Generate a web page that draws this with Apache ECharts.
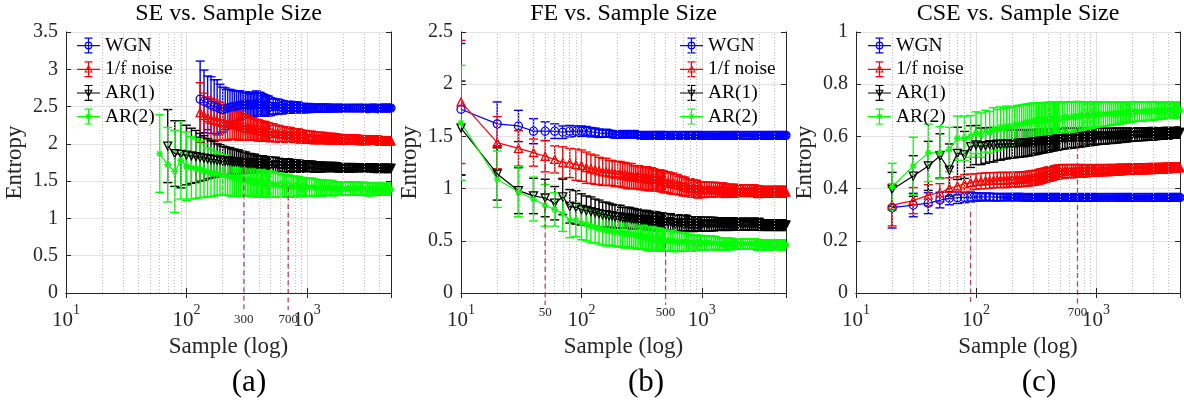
<!DOCTYPE html>
<html><head><meta charset="utf-8">
<script src="https://cdn.jsdelivr.net/npm/echarts@6/dist/echarts.min.js"></script>
<style>html,body{margin:0;padding:0;background:#fff}#c{width:1184px;height:407px}</style>
</head><body><div id="c"></div>
<script>
// ---------------- DATA ----------------
const seriesNames = ['WGN', '1/f noise', 'AR(1)', 'AR(2)'];
const panelTitles = ['SE vs. Sample Size', 'FE vs. Sample Size', 'CSE vs. Sample Size'];
const panelTags = ['(a)', '(b)', '(c)'];
const xAxisName = 'Sample (log)';
const yAxisName = 'Entropy';
const xTickValues = [10, 100, 1000];
const xTickExponents = ['1', '2', '3'];
const minorGridValues = [20,30,40,50,60,70,80,90,200,300,400,500,600,700,800,900,2000,3000,4000];

// sample sizes
const nA = [60,70,80,90,100,110,120,130,140,150,160,170,180,190,200,
  210,220,230,240,250,260,270,280,290,300,310,320,330,340,350,360,370,380,390,400,410,420,430,440,450,460,470,480,490,500,
  525,550,575,600,625,650,675,700,725,750,775,800,825,850,875,900,925,950,975,1000,
  1050,1100,1150,1200,1250,1300,1350,1400,1450,1500,1550,1600,1650,1700,1750,1800,1850,1900,1950,2000,
  2100,2200,2300,2400,2500,2600,2700,2800,2900,3000,
  3100,3200,3300,3400,3500,3600,3700,3800,3900,4000,
  4100,4200,4300,4400,4500,4600,4700,4800,4900,5000];
const nB = [10,20,30,40,50,
  60,70,80,90,100,110,120,130,140,150,160,170,180,190,200,
  210,220,230,240,250,260,270,280,290,300,310,320,330,340,350,360,370,380,390,400,410,420,430,440,450,460,470,480,490,500,
  525,550,575,600,625,650,675,700,725,750,775,800,825,850,875,900,925,950,975,1000,
  1050,1100,1150,1200,1250,1300,1350,1400,1450,1500,1550,1600,1650,1700,1750,1800,1850,1900,1950,2000,
  2100,2200,2300,2400,2500,2600,2700,2800,2900,3000,
  3100,3200,3300,3400,3500,3600,3700,3800,3900,4000,
  4100,4200,4300,4400,4500,4600,4700,4800,4900,5000];
const nC = [20,30,40,50,
  60,70,80,90,100,110,120,130,140,150,160,170,180,190,200,
  210,220,230,240,250,260,270,280,290,300,310,320,330,340,350,360,370,380,390,400,410,420,430,440,450,460,470,480,490,500,
  525,550,575,600,625,650,675,700,725,750,775,800,825,850,875,900,925,950,975,1000,
  1050,1100,1150,1200,1250,1300,1350,1400,1450,1500,1550,1600,1650,1700,1750,1800,1850,1900,1950,2000,
  2100,2200,2300,2400,2500,2600,2700,2800,2900,3000,
  3100,3200,3300,3400,3500,3600,3700,3800,3900,4000,
  4100,4200,4300,4400,4500,4600,4700,4800,4900,5000];

// (a) SE
const seWgnMean = [null,null,null,null,null,null,null,2.60,2.57,2.55,2.52,2.50,2.49,2.47,2.46,
  2.47,2.48,2.49,2.50,2.50,2.51,2.51,2.52,2.52,2.52, 2.53,2.52,2.53,2.52,2.52,2.53,2.53,2.54,2.53,2.53,
  2.53,2.52,2.52,2.52,2.51,2.51,2.51,2.51,2.50,2.50,
  2.50,2.50,2.50,2.50,2.49,2.49,2.49,2.49,2.49,2.49,2.49,2.49,2.49,2.49,2.48,2.48,2.48,2.48,2.48,2.48,
  2.48,2.48,2.48,2.48,2.48,2.48,2.48,2.48,2.48,2.48,2.48,2.48,2.48,2.48,2.48,2.48,2.48,2.48,2.48,2.48,
  2.48,2.48,2.48,2.48,2.48,2.48,2.48,2.48,2.48,2.48,
  2.48,2.47,2.48,2.48,2.48,2.48,2.48,2.48,2.47,2.48,
  2.48,2.48,2.48,2.48,2.48,2.48,2.48,2.48,2.48,2.48];
const seWgnStd = [null,null,null,null,null,null,null,0.51,0.42,0.36,0.38,0.36,0.37,0.33,0.30,
  0.28,0.25,0.24,0.22,0.21,0.20,0.20,0.19,0.18,0.17, 0.17,0.16,0.16,0.15,0.15,0.16,0.16,0.17,0.16,0.16,
  0.16,0.15,0.15,0.14,0.14,0.14,0.13,0.13,0.12,0.12,
  0.11,0.10,0.10,0.09,0.09,0.08,0.08,0.08,0.08,0.07,0.07,0.07,0.07,0.07,0.06,0.06,0.06,0.06,0.06,0.06,
  0.06,0.05,0.05,0.05,0.05,0.05,0.05,0.05,0.05,0.05,0.045,0.045,0.045,0.045,0.045,0.04,0.04,0.04,0.04,0.04,
  0.04,0.04,0.04,0.04,0.04,0.04,0.04,0.04,0.04,0.04,
  0.035,0.035,0.035,0.035,0.035,0.035,0.035,0.035,0.035,0.035,
  0.03,0.03,0.03,0.03,0.03,0.03,0.03,0.03,0.03,0.03];
const seFnMean = [null,null,null,null,null,null,null,2.42,2.38,2.35,2.33,2.32,2.31,2.30,2.29,
  2.28,2.27,2.27,2.26,2.26,2.25,2.24,2.23,2.23,2.22, 2.22,2.21,2.21,2.20,2.20,2.20,2.19,2.19,2.18,2.18,
  2.18,2.17,2.17,2.17,2.17,2.16,2.16,2.16,2.15,2.15,
  2.15,2.14,2.14,2.13,2.13,2.13,2.12,2.12,2.12,2.12,2.11,2.11,2.11,2.11,2.10,2.10,2.10,2.10,2.09,2.09,
  2.09,2.09,2.08,2.08,2.08,2.08,2.08,2.08,2.07,2.07,2.07,2.07,2.07,2.07,2.07,2.06,2.06,2.06,2.06,2.06,
  2.06,2.06,2.06,2.06,2.06,2.06,2.05,2.05,2.05,2.05,
  2.05,2.05,2.05,2.05,2.05,2.05,2.05,2.05,2.05,2.04,
  2.04,2.04,2.04,2.04,2.04,2.04,2.04,2.04,2.04,2.04];
const seFnStd = [null,null,null,null,null,null,null,0.40,0.30,0.28,0.28,0.27,0.26,0.25,0.24,
  0.23,0.22,0.21,0.20,0.20,0.19,0.19,0.18,0.18,0.17, 0.17,0.16,0.16,0.15,0.15,0.15,0.14,0.14,0.14,0.14,
  0.13,0.13,0.13,0.13,0.13,0.12,0.12,0.12,0.12,0.12,
  0.12,0.11,0.11,0.11,0.10,0.10,0.10,0.10,0.10,0.09,0.09,0.09,0.09,0.09,0.09,0.08,0.08,0.08,0.08,0.08,
  0.08,0.08,0.08,0.075,0.075,0.075,0.075,0.07,0.07,0.07,0.07,0.07,0.07,0.065,0.065,0.065,0.065,0.065,0.065,0.06,
  0.06,0.06,0.06,0.06,0.06,0.06,0.06,0.06,0.06,0.06,
  0.06,0.06,0.055,0.055,0.055,0.055,0.055,0.055,0.055,0.055,
  0.055,0.055,0.05,0.05,0.05,0.05,0.05,0.05,0.05,0.05];
const seAr1Mean = [null,1.97,1.87,1.86,1.85,1.84,1.83,1.82,1.81,1.80,1.79,1.79,1.78,1.78,1.77,
  1.77,1.77,1.77,1.76,1.76,1.76,1.76,1.75,1.75,1.75, 1.75,1.74,1.74,1.74,1.74,1.74,1.74,1.73,1.73,1.73,
  1.73,1.73,1.73,1.73,1.73,1.72,1.72,1.72,1.72,1.72,
  1.72,1.72,1.72,1.71,1.71,1.71,1.71,1.71,1.71,1.71,1.70,1.70,1.70,1.70,1.70,1.70,1.70,1.70,1.70,1.70,
  1.70,1.70,1.69,1.69,1.69,1.69,1.69,1.69,1.69,1.69,1.69,1.69,1.69,1.69,1.69,1.68,1.68,1.68,1.68,1.68,
  1.68,1.68,1.68,1.68,1.68,1.68,1.68,1.68,1.68,1.68,
  1.68,1.68,1.68,1.68,1.68,1.67,1.67,1.67,1.67,1.67,
  1.67,1.67,1.67,1.67,1.67,1.67,1.67,1.67,1.67,1.67];
const seAr1Std = [null,0.49,0.44,0.45,0.40,0.37,0.35,0.32,0.30,0.27,0.25,0.24,0.22,0.21,0.20,
  0.19,0.18,0.18,0.17,0.17,0.16,0.16,0.15,0.15,0.14, 0.14,0.13,0.13,0.13,0.12,0.12,0.12,0.12,0.11,0.11,
  0.11,0.11,0.11,0.10,0.10,0.10,0.10,0.10,0.10,0.10,
  0.10,0.10,0.09,0.09,0.09,0.09,0.09,0.09,0.08,0.08,0.08,0.08,0.08,0.08,0.08,0.07,0.07,0.07,0.07,0.07,
  0.07,0.07,0.07,0.065,0.065,0.065,0.065,0.06,0.06,0.06,0.06,0.06,0.06,0.06,0.055,0.055,0.055,0.055,0.055,0.055,
  0.055,0.055,0.055,0.055,0.055,0.05,0.05,0.05,0.05,0.05,
  0.05,0.05,0.05,0.05,0.05,0.05,0.05,0.05,0.05,0.05,
  0.045,0.045,0.045,0.045,0.045,0.045,0.045,0.045,0.045,0.045];
const seAr2Mean = [1.87,1.72,1.63,1.78,1.70,1.68,1.67,1.66,1.64,1.62,1.61,1.60,1.60,1.59,1.58,
  1.58,1.57,1.56,1.55,1.55,1.54,1.54,1.53,1.53,1.52, 1.52,1.51,1.51,1.50,1.50,1.50,1.49,1.49,1.49,1.48,
  1.48,1.48,1.47,1.47,1.47,1.47,1.46,1.46,1.46,1.46,
  1.46,1.45,1.45,1.45,1.44,1.44,1.44,1.44,1.43,1.43,1.43,1.43,1.43,1.43,1.42,1.42,1.42,1.42,1.42,1.42,
  1.42,1.42,1.42,1.41,1.41,1.41,1.41,1.41,1.41,1.41,1.41,1.41,1.40,1.40,1.40,1.40,1.40,1.40,1.40,1.40,
  1.40,1.40,1.40,1.40,1.40,1.40,1.40,1.40,1.40,1.40,
  1.39,1.39,1.39,1.39,1.39,1.39,1.39,1.39,1.39,1.39,
  1.39,1.39,1.39,1.39,1.39,1.39,1.39,1.39,1.39,1.39];
const seAr2Std = [0.52,0.50,0.55,0.52,0.46,0.42,0.40,0.38,0.36,0.33,0.32,0.30,0.29,0.28,0.27,
  0.27,0.26,0.26,0.25,0.25,0.24,0.24,0.23,0.23,0.22, 0.22,0.21,0.21,0.21,0.20,0.20,0.20,0.20,0.19,0.19,
  0.19,0.19,0.18,0.18,0.18,0.18,0.18,0.17,0.17,0.17,
  0.17,0.16,0.16,0.16,0.15,0.15,0.15,0.15,0.14,0.14,0.14,0.14,0.13,0.13,0.13,0.13,0.12,0.12,0.12,0.12,
  0.12,0.12,0.11,0.11,0.11,0.11,0.11,0.10,0.10,0.10,0.10,0.10,0.10,0.09,0.09,0.09,0.09,0.09,0.09,0.09,
  0.09,0.09,0.09,0.09,0.09,0.085,0.085,0.085,0.085,0.085,
  0.085,0.085,0.085,0.085,0.085,0.08,0.08,0.08,0.08,0.08,
  0.08,0.08,0.08,0.08,0.08,0.08,0.08,0.08,0.08,0.08];

// (b) FE
const feWgnMean = [1.76,1.62,1.60,1.55,1.55,
  1.55,1.54,1.55,1.55,1.55,1.55,1.54,1.54,1.53,1.53,1.53,1.53,1.52,1.52,1.52,
  1.52,1.52,1.52,1.52,1.52,1.52,1.52,1.52,1.52,1.51, 1.51,1.51,1.51,1.51,1.51,1.51,1.51,1.51,1.51,1.51,
  1.51,1.51,1.51,1.51,1.51,1.51,1.51,1.51,1.51,1.51,
  1.51,1.51,1.51,1.51,1.51,1.51,1.51,1.51,1.51,1.51,1.51,1.51,1.51,1.51,1.51,1.51,1.51,1.51,1.51,1.51,
  1.51,1.51,1.51,1.51,1.51,1.51,1.51,1.51,1.51,1.51,1.51,1.51,1.51,1.51,1.51,1.51,1.51,1.51,1.51,1.51,
  1.51,1.51,1.51,1.51,1.51,1.51,1.51,1.51,1.51,1.51,
  1.51,1.51,1.51,1.51,1.51,1.51,1.51,1.51,1.51,1.51,
  1.51,1.51,1.51,1.51,1.51,1.51,1.51,1.51,1.51,1.51];
const feWgnStd = [0.63,0.21,0.15,0.12,0.09,
  0.07,0.06,0.055,0.05,0.05,0.045,0.045,0.04,0.04,0.035,0.035,0.03,0.03,0.03,0.03,
  0.03,0.028,0.027,0.026,0.025,0.024,0.023,0.022,0.021,0.02, 0.02,0.02,0.02,0.02,0.02,0.02,0.02,0.02,0.02,0.02,
  0.02,0.02,0.02,0.02,0.02,0.02,0.02,0.02,0.02,0.02,
  0.015,0.015,0.015,0.015,0.015,0.015,0.015,0.015,0.015,0.015,0.015,0.015,0.015,0.015,0.015,0.015,0.015,0.015,0.015,0.015,
  0.012,0.012,0.012,0.012,0.012,0.012,0.012,0.012,0.012,0.012,0.012,0.012,0.012,0.012,0.012,0.012,0.012,0.012,0.012,0.012,
  0.01,0.01,0.01,0.01,0.01,0.01,0.01,0.01,0.01,0.01,
  0.01,0.01,0.01,0.01,0.01,0.01,0.01,0.01,0.01,0.01,
  0.01,0.01,0.01,0.01,0.01,0.01,0.01,0.01,0.01,0.01];
const feFnMean = [1.83,1.44,1.385,1.345,1.31,
  1.28,1.25,1.245,1.23,1.22,1.20,1.19,1.18,1.17,1.16,1.16,1.15,1.15,1.14,1.14,
  1.14,1.13,1.13,1.12,1.12,1.12,1.11,1.11,1.11,1.11, 1.10,1.10,1.10,1.10,1.10,1.09,1.09,1.09,1.09,1.09,
  1.08,1.08,1.08,1.08,1.08,1.07,1.07,1.07,1.06,1.06,
  1.06,1.05,1.05,1.04,1.04,1.03,1.03,1.02,1.02,1.01,1.01,1.01,1.00,1.00,1.00,1.00,0.99,0.99,0.99,0.99,
  0.99,0.99,0.99,0.99,0.99,0.99,0.99,0.99,0.99,0.99,0.98,0.98,0.98,0.98,0.98,0.98,0.98,0.98,0.98,0.98,
  0.98,0.98,0.98,0.98,0.98,0.98,0.98,0.98,0.97,0.97,
  0.97,0.97,0.97,0.97,0.97,0.97,0.97,0.97,0.97,0.97,
  0.97,0.97,0.97,0.97,0.97,0.97,0.97,0.97,0.97,0.97];
const feFnStd = [0.59,0.25,0.17,0.13,0.15,
  0.13,0.15,0.14,0.15,0.15,0.15,0.14,0.14,0.13,0.13,0.13,0.12,0.12,0.12,0.12,
  0.12,0.12,0.12,0.12,0.12,0.12,0.11,0.11,0.11,0.11, 0.11,0.11,0.11,0.11,0.11,0.11,0.11,0.11,0.10,0.10,
  0.10,0.10,0.10,0.10,0.10,0.10,0.10,0.10,0.10,0.10,
  0.10,0.10,0.10,0.095,0.095,0.09,0.09,0.09,0.09,0.085,0.085,0.085,0.08,0.08,0.08,0.08,0.08,0.075,0.075,0.075,
  0.075,0.07,0.07,0.07,0.07,0.07,0.065,0.065,0.065,0.065,0.065,0.06,0.06,0.06,0.06,0.06,0.06,0.06,0.055,0.055,
  0.055,0.055,0.055,0.055,0.055,0.055,0.055,0.055,0.055,0.055,
  0.05,0.05,0.05,0.05,0.05,0.05,0.05,0.05,0.05,0.05,
  0.05,0.05,0.05,0.05,0.05,0.05,0.05,0.05,0.05,0.05];
const feAr1Mean = [1.58,1.14,0.98,0.93,0.91,
  0.86,0.92,0.83,0.82,0.80,0.79,0.78,0.77,0.76,0.75,0.75,0.74,0.74,0.73,0.73,
  0.73,0.72,0.72,0.72,0.72,0.71,0.71,0.71,0.71,0.70, 0.70,0.70,0.70,0.70,0.70,0.69,0.69,0.69,0.69,0.69,
  0.69,0.69,0.68,0.68,0.68,0.68,0.68,0.68,0.68,0.68,
  0.68,0.68,0.67,0.67,0.67,0.67,0.67,0.67,0.67,0.67,0.66,0.66,0.66,0.66,0.66,0.66,0.66,0.66,0.66,0.66,
  0.66,0.66,0.66,0.66,0.66,0.66,0.66,0.66,0.66,0.66,0.66,0.66,0.66,0.66,0.66,0.66,0.66,0.66,0.66,0.66,
  0.66,0.66,0.66,0.66,0.66,0.66,0.66,0.66,0.66,0.66,
  0.65,0.65,0.65,0.65,0.65,0.65,0.65,0.65,0.65,0.65,
  0.65,0.65,0.65,0.65,0.65,0.65,0.65,0.65,0.65,0.65];
const feAr1Std = [0.45,0.25,0.22,0.17,0.18,
  0.16,0.17,0.16,0.16,0.15,0.14,0.14,0.13,0.13,0.12,0.12,0.12,0.11,0.11,0.11,
  0.11,0.10,0.10,0.10,0.10,0.10,0.10,0.095,0.095,0.09, 0.09,0.09,0.09,0.09,0.09,0.09,0.09,0.09,0.09,0.09,
  0.085,0.085,0.085,0.085,0.085,0.085,0.085,0.08,0.08,0.08,
  0.08,0.08,0.08,0.08,0.08,0.075,0.075,0.075,0.075,0.075,0.07,0.07,0.07,0.07,0.07,0.065,0.065,0.065,0.065,0.065,
  0.065,0.065,0.065,0.065,0.065,0.06,0.06,0.06,0.06,0.06,0.06,0.06,0.06,0.06,0.06,0.055,0.055,0.055,0.055,0.055,
  0.055,0.055,0.055,0.055,0.055,0.055,0.055,0.055,0.055,0.055,
  0.05,0.05,0.05,0.05,0.05,0.05,0.05,0.05,0.05,0.05,
  0.05,0.05,0.05,0.05,0.05,0.05,0.05,0.05,0.05,0.05];
const feAr2Mean = [1.63,1.09,0.97,0.90,0.84,
  0.80,0.76,0.70,0.70,0.67,0.66,0.64,0.63,0.62,0.61,0.60,0.60,0.59,0.59,0.58,
  0.58,0.58,0.57,0.57,0.57,0.56,0.56,0.56,0.55,0.55, 0.55,0.54,0.54,0.54,0.53,0.53,0.53,0.52,0.52,0.52,
  0.52,0.51,0.51,0.51,0.51,0.51,0.50,0.50,0.50,0.50,
  0.50,0.50,0.50,0.49,0.49,0.49,0.49,0.49,0.49,0.49,0.48,0.48,0.48,0.48,0.48,0.48,0.48,0.48,0.48,0.48,
  0.48,0.48,0.48,0.48,0.48,0.48,0.47,0.47,0.47,0.47,0.47,0.47,0.47,0.47,0.47,0.47,0.47,0.47,0.47,0.47,
  0.47,0.47,0.47,0.47,0.47,0.47,0.47,0.47,0.46,0.46,
  0.46,0.46,0.46,0.46,0.46,0.46,0.46,0.46,0.46,0.46,
  0.46,0.46,0.46,0.46,0.46,0.46,0.46,0.46,0.46,0.46];
const feAr2Std = [0.55,0.27,0.24,0.21,0.20,
  0.16,0.17,0.17,0.16,0.16,0.16,0.16,0.15,0.15,0.15,0.15,0.14,0.14,0.14,0.14,
  0.14,0.14,0.14,0.13,0.13,0.13,0.13,0.13,0.13,0.13, 0.13,0.12,0.12,0.12,0.12,0.12,0.12,0.12,0.11,0.11,
  0.11,0.11,0.11,0.11,0.11,0.10,0.10,0.10,0.10,0.10,
  0.10,0.10,0.095,0.095,0.09,0.09,0.09,0.085,0.085,0.085,0.08,0.08,0.08,0.075,0.075,0.075,0.07,0.07,0.07,0.07,
  0.07,0.065,0.065,0.065,0.065,0.06,0.06,0.06,0.06,0.06,0.055,0.055,0.055,0.055,0.055,0.05,0.05,0.05,0.05,0.05,
  0.05,0.05,0.05,0.05,0.05,0.05,0.05,0.05,0.05,0.05,
  0.045,0.045,0.045,0.045,0.045,0.045,0.045,0.045,0.045,0.045,
  0.045,0.045,0.045,0.045,0.045,0.045,0.045,0.045,0.045,0.045];

// (c) CSE
const cseWgnMean = [0.327,0.337,0.344,0.356,
  0.363,0.365,0.366,0.367,0.368,0.368,0.368,0.368,0.367,0.367,0.367,0.367,0.367,0.367,0.367,
  0.367,0.367,0.367,0.367,0.366,0.366,0.366,0.366,0.366,0.366, 0.366,0.366,0.366,0.366,0.366,0.366,0.366,0.366,0.366,0.366,
  0.366,0.366,0.366,0.366,0.366,0.366,0.366,0.366,0.366,0.366,
  0.366,0.366,0.366,0.366,0.366,0.366,0.366,0.366,0.366,0.366,0.366,0.366,0.366,0.366,0.366,0.366,0.366,0.366,0.366,0.366,
  0.366,0.366,0.366,0.366,0.366,0.366,0.366,0.366,0.366,0.366,0.366,0.366,0.366,0.366,0.366,0.366,0.366,0.366,0.366,0.366,
  0.366,0.366,0.366,0.366,0.366,0.366,0.366,0.366,0.366,0.366,
  0.366,0.366,0.366,0.366,0.366,0.366,0.366,0.366,0.366,0.366,
  0.366,0.366,0.366,0.366,0.366,0.366,0.366,0.366,0.366,0.366];
const cseWgnStd = [0.078,0.045,0.04,0.03,
  0.025,0.022,0.02,0.018,0.016,0.015,0.015,0.014,0.014,0.013,0.013,0.012,0.012,0.012,0.011,
  0.011,0.011,0.011,0.010,0.010,0.010,0.010,0.010,0.010,0.009, 0.009,0.009,0.009,0.009,0.009,0.009,0.009,0.009,0.009,0.009,
  0.009,0.009,0.009,0.009,0.009,0.009,0.009,0.009,0.009,0.009,
  0.008,0.008,0.008,0.008,0.008,0.008,0.008,0.008,0.008,0.008,0.008,0.008,0.008,0.008,0.008,0.008,0.008,0.008,0.008,0.008,
  0.007,0.007,0.007,0.007,0.007,0.007,0.007,0.007,0.007,0.007,0.007,0.007,0.007,0.007,0.007,0.007,0.007,0.007,0.007,0.007,
  0.006,0.006,0.006,0.006,0.006,0.006,0.006,0.006,0.006,0.006,
  0.006,0.006,0.006,0.006,0.006,0.006,0.006,0.006,0.006,0.006,
  0.006,0.006,0.006,0.006,0.006,0.006,0.006,0.006,0.006,0.006];
const cseFnMean = [0.337,0.354,0.375,0.384,
  0.401,0.410,0.418,0.423,0.427,0.429,0.430,0.431,0.432,0.433,0.433,0.433,0.433,0.434,0.434,
  0.434,0.435,0.435,0.436,0.436,0.437,0.438,0.439,0.440,0.441, 0.442,0.443,0.445,0.446,0.448,0.449,0.451,0.452,0.454,0.455,
  0.456,0.457,0.458,0.459,0.461,0.462,0.463,0.463,0.464,0.465,
  0.466,0.466,0.467,0.467,0.467,0.467,0.468,0.468,0.468,0.468,0.468,0.468,0.469,0.469,0.469,0.469,0.469,0.469,0.470,0.470,
  0.470,0.470,0.471,0.471,0.471,0.471,0.472,0.472,0.472,0.472,0.473,0.473,0.473,0.473,0.474,0.474,0.474,0.474,0.475,0.475,
  0.475,0.475,0.475,0.476,0.476,0.476,0.476,0.477,0.477,0.477,
  0.477,0.478,0.478,0.478,0.478,0.478,0.478,0.479,0.479,0.479,
  0.479,0.479,0.479,0.480,0.480,0.480,0.480,0.480,0.480,0.480];
const cseFnStd = [0.08,0.05,0.04,0.035,
  0.04,0.035,0.035,0.033,0.03,0.03,0.03,0.03,0.029,0.029,0.029,0.029,0.029,0.028,0.028,
  0.028,0.028,0.028,0.028,0.028,0.028,0.028,0.028,0.028,0.028, 0.028,0.028,0.028,0.028,0.028,0.027,0.027,0.027,0.027,0.027,
  0.027,0.027,0.026,0.026,0.026,0.026,0.026,0.026,0.026,0.026,
  0.026,0.026,0.025,0.025,0.025,0.025,0.024,0.024,0.024,0.024,0.023,0.023,0.023,0.023,0.022,0.022,0.022,0.022,0.022,0.022,
  0.022,0.021,0.021,0.021,0.021,0.021,0.02,0.02,0.02,0.02,0.02,0.02,0.02,0.019,0.019,0.019,0.019,0.019,0.019,0.019,
  0.019,0.019,0.019,0.019,0.019,0.019,0.019,0.019,0.019,0.019,
  0.018,0.018,0.018,0.018,0.018,0.018,0.018,0.018,0.018,0.018,
  0.017,0.017,0.017,0.017,0.017,0.017,0.017,0.017,0.017,0.017];
const cseAr1Mean = [0.397,0.448,0.487,0.525,
  0.471,0.535,0.529,0.561,0.567,0.562,0.565,0.568,0.566,0.570,0.569,0.571,0.570,0.572,0.572,
  0.572,0.573,0.573,0.574,0.574,0.575,0.575,0.576,0.577,0.578, 0.578,0.579,0.580,0.581,0.582,0.582,0.583,0.584,0.584,0.585,
  0.585,0.586,0.587,0.587,0.588,0.588,0.589,0.589,0.590,0.590,
  0.591,0.592,0.592,0.593,0.593,0.594,0.594,0.595,0.595,0.596,0.596,0.597,0.597,0.598,0.598,0.598,0.599,0.599,0.600,0.600,
  0.600,0.601,0.601,0.601,0.602,0.602,0.602,0.603,0.603,0.603,0.604,0.604,0.604,0.605,0.605,0.605,0.606,0.606,0.606,0.607,
  0.607,0.607,0.608,0.608,0.608,0.609,0.609,0.609,0.610,0.610,
  0.610,0.610,0.611,0.611,0.611,0.611,0.612,0.612,0.612,0.612,
  0.613,0.613,0.613,0.613,0.614,0.614,0.614,0.614,0.615,0.615];
const cseAr1Std = [0.065,0.078,0.094,0.085,
  0.10,0.10,0.09,0.08,0.075,0.07,0.068,0.066,0.064,0.062,0.06,0.058,0.056,0.055,0.054,
  0.054,0.053,0.053,0.052,0.052,0.051,0.050,0.050,0.049,0.048, 0.048,0.047,0.047,0.046,0.046,0.045,0.045,0.045,0.044,0.044,
  0.043,0.043,0.042,0.042,0.042,0.041,0.041,0.041,0.040,0.040,
  0.04,0.039,0.039,0.038,0.038,0.037,0.037,0.036,0.036,0.035,0.035,0.034,0.034,0.033,0.033,0.033,0.032,0.032,0.032,0.031,
  0.031,0.03,0.03,0.03,0.029,0.029,0.029,0.028,0.028,0.028,0.027,0.027,0.027,0.026,0.026,0.026,0.025,0.025,0.025,0.025,
  0.024,0.024,0.024,0.024,0.024,0.024,0.024,0.024,0.024,0.024,
  0.022,0.022,0.022,0.022,0.022,0.022,0.022,0.022,0.022,0.022,
  0.02,0.02,0.02,0.02,0.02,0.02,0.02,0.02,0.02,0.02];
const cseAr2Mean = [0.407,0.487,0.537,0.537,
  0.550,0.593,0.593,0.600,0.614,0.605,0.620,0.615,0.630,0.625,0.635,0.630,0.640,0.635,0.640,
  0.641,0.645,0.646,0.648,0.650,0.652,0.653,0.655,0.657,0.658, 0.659,0.660,0.661,0.662,0.662,0.663,0.664,0.664,0.665,0.666,
  0.666,0.667,0.667,0.668,0.668,0.668,0.669,0.669,0.670,0.670,
  0.671,0.672,0.673,0.674,0.675,0.676,0.677,0.678,0.678,0.679,0.679,0.680,0.680,0.681,0.681,0.682,0.682,0.683,0.683,0.684,
  0.684,0.685,0.685,0.686,0.686,0.687,0.687,0.688,0.688,0.689,0.689,0.690,0.690,0.691,0.691,0.692,0.692,0.693,0.693,0.694,
  0.694,0.695,0.695,0.695,0.696,0.696,0.696,0.697,0.697,0.697,
  0.698,0.698,0.698,0.698,0.699,0.699,0.699,0.699,0.700,0.700,
  0.700,0.700,0.700,0.701,0.701,0.701,0.701,0.701,0.701,0.701];
const cseAr2Std = [0.09,0.11,0.11,0.10,
  0.085,0.085,0.085,0.08,0.08,0.085,0.08,0.08,0.08,0.078,0.078,0.077,0.076,0.075,0.074,
  0.074,0.073,0.073,0.072,0.072,0.071,0.071,0.070,0.070,0.069, 0.069,0.068,0.068,0.067,0.067,0.066,0.066,0.065,0.065,0.064,
  0.064,0.064,0.063,0.063,0.063,0.062,0.062,0.062,0.061,0.061,
  0.06,0.06,0.059,0.058,0.058,0.057,0.056,0.056,0.055,0.054,0.054,0.053,0.052,0.052,0.051,0.05,0.05,0.049,0.049,0.048,
  0.048,0.047,0.046,0.046,0.045,0.045,0.044,0.043,0.043,0.042,0.042,0.041,0.041,0.04,0.04,0.039,0.039,0.038,0.038,0.038,
  0.037,0.037,0.037,0.037,0.037,0.035,0.035,0.035,0.035,0.035,
  0.033,0.033,0.033,0.033,0.033,0.031,0.031,0.031,0.031,0.031,
  0.03,0.03,0.03,0.03,0.03,0.029,0.029,0.029,0.029,0.029];

// dashed annotation markers
const annoAX = [300, 700], annoAY = [1.9, 1.42], annoALabels = ['300', '700'];
const annoBX = [50, 500],  annoBY = [1.31, 0.48], annoBLabels = ['50', '500'];
const annoCX = [90, 700],  annoCY = [0.31, 0.63], annoCLabels = ['', '700'];

// y-axis ranges
const yMaxs = [3.5, 2.5, 1];
const yIntervals = [0.5, 0.5, 0.2];

// ---------------- STYLE / LAYOUT ----------------
const FONT = 'Liberation Serif';
const TXT = '#262626';
const colors = ['#0000ff', '#ff0000', '#000000', '#00ff00'];
const markerSymbols = ['circle', 'triangle', 'path://M0,0L2,0L1,1.8Z',
  'path://M1,0L1,2M0,1L2,1M0.3,0.3L1.7,1.7M0.3,1.7L1.7,0.3'];
const markerSizes = [8, 8, 8, 7];
const legendBase = 'M0 7.5H23V8.7H0Z M10.9 0H12.1V16H10.9Z M7.5 0H15.5V1.2H7.5Z M7.5 14.8H15.5V16H7.5Z ';
const legendIcons = [
  'path://' + legendBase + 'M7.6 8A3.9 3.9 0 1 1 15.4 8A3.9 3.9 0 1 1 7.6 8Z M8.8 8A2.7 2.7 0 1 0 14.2 8A2.7 2.7 0 1 0 8.8 8Z',
  'path://' + legendBase + 'M11.5 3.6L15.8 11.2L7.2 11.2Z M11.5 5.9L8.9 10.2L14.1 10.2Z',
  'path://' + legendBase + 'M7.2 4.8L15.8 4.8L11.5 12.4Z M11.5 10.1L13.9 5.8L9.1 5.8Z',
  'path://' + legendBase + 'M9.8 5.2L14.2 9.6L13.4 10.4L9 6Z M13.4 5.2L14.2 6L9.8 10.4L9 9.6Z'
];

const panels = [
  {grid: {left: 66, top: 32, width: 325, height: 261}, n: nA,
   means: [seWgnMean, seFnMean, seAr1Mean, seAr2Mean], stds: [seWgnStd, seFnStd, seAr1Std, seAr2Std],
   annoX: annoAX, annoY: annoAY, annoL: annoALabels, lineExt: 17, labOff: 27, legendLeft: 77, tagX: 249},
  {grid: {left: 461, top: 32, width: 325, height: 261}, n: nB,
   means: [feWgnMean, feFnMean, feAr1Mean, feAr2Mean], stds: [feWgnStd, feFnStd, feAr1Std, feAr2Std],
   annoX: annoBX, annoY: annoBY, annoL: annoBLabels, lineExt: 12, labOff: 20, legendLeft: 680, tagX: 646},
  {grid: {left: 856, top: 32, width: 324, height: 261}, n: nC,
   means: [cseWgnMean, cseFnMean, cseAr1Mean, cseAr2Mean], stds: [cseWgnStd, cseFnStd, cseAr1Std, cseAr2Std],
   annoX: annoCX, annoY: annoCY, annoL: annoCLabels, lineExt: 12, labOff: 20, legendLeft: 868, tagX: 1039}
];

// sanity check of array lengths
panels.forEach((p, i) => {
  p.means.concat(p.stds).forEach((arr, k) => {
    if (arr.length !== p.n.length) throw new Error('panel ' + i + ' array ' + k + ' length ' + arr.length + ' != ' + p.n.length);
  });
});

function xLabel(v) {
  for (let i = 0; i < xTickValues.length; i++) {
    if (Math.abs(v - xTickValues[i]) / xTickValues[i] < 1e-6) return '{b|10}{s|' + xTickExponents[i] + '}';
  }
  return '';
}

function errRender(color) {
  return function (params, api) {
    const x = api.value(0), m = api.value(1), s = api.value(2);
    const t = api.coord([x, m + s]), b = api.coord([x, m - s]);
    const w = 4.5;
    const st = {stroke: color, lineWidth: 1.4};
    return {type: 'group', children: [
      {type: 'line', shape: {x1: t[0], y1: t[1], x2: b[0], y2: b[1]}, style: st},
      {type: 'line', shape: {x1: t[0] - w, y1: t[1], x2: t[0] + w, y2: t[1]}, style: st},
      {type: 'line', shape: {x1: b[0] - w, y1: b[1], x2: b[0] + w, y2: b[1]}, style: st}
    ]};
  };
}

function annoRender(p) {
  return function (params, api) {
    const x = api.value(0), y = api.value(1);
    const pt = api.coord([x, y]);
    const base = api.coord([x, 0])[1];
    return {type: 'group', children: [
      {type: 'line', shape: {x1: pt[0], y1: pt[1], x2: pt[0], y2: base + p.lineExt},
       style: {stroke: 'rgba(168,28,58,0.8)', lineWidth: 1.3, lineDash: [5, 3.5]}},
      {type: 'text', x: pt[0], y: base + p.labOff,
       style: {text: p.annoL[params.dataIndex], fontFamily: FONT, fontSize: 13, fill: TXT,
               align: 'center', verticalAlign: 'middle'}}
    ]};
  };
}

const grids = [], xAxes = [], yAxes = [], series = [], legends = [], graphics = [];
panels.forEach((p, i) => {
  grids.push(Object.assign({show: false}, p.grid));
  xAxes.push({
    type: 'log', logBase: 10, gridIndex: i, min: 10, max: 5000, position: 'bottom',
    axisLine: {show: true, lineStyle: {color: TXT, width: 1}},
    axisTick: {show: true, inside: true, length: 5, lineStyle: {color: TXT}},
    axisLabel: {show: true, margin: 10, formatter: xLabel, rich: {
      b: {fontFamily: FONT, fontSize: 21, color: TXT, lineHeight: 28, verticalAlign: 'bottom'},
      s: {fontFamily: FONT, fontSize: 14, color: TXT, lineHeight: 13, verticalAlign: 'top'}}},
    splitLine: {show: true, lineStyle: {color: '#dedede', width: 1}},
    minorTick: {show: false}, minorSplitLine: {show: false},
    name: xAxisName, nameLocation: 'middle', nameGap: 37,
    nameTextStyle: {fontFamily: FONT, fontSize: 23, color: TXT}
  });
  xAxes.push({
    type: 'log', logBase: 10, gridIndex: i, min: 10, max: 5000, position: 'top',
    axisLine: {show: true, lineStyle: {color: TXT, width: 1}},
    axisTick: {show: true, inside: true, length: 5, lineStyle: {color: TXT}},
    axisLabel: {show: false}, splitLine: {show: false}
  });
  yAxes.push({
    type: 'value', gridIndex: i, min: 0, max: yMaxs[i], interval: yIntervals[i], position: 'left',
    axisLine: {show: true, lineStyle: {color: TXT, width: 1}},
    axisTick: {show: true, inside: true, length: 5, lineStyle: {color: TXT}},
    axisLabel: {show: true, fontFamily: FONT, fontSize: 20, color: TXT, margin: 8},
    splitLine: {show: true, lineStyle: {color: '#e3e3e3', width: 1}},
    name: yAxisName, nameLocation: 'middle', nameGap: 40,
    nameTextStyle: {fontFamily: FONT, fontSize: 23, color: TXT}
  });
  yAxes.push({
    type: 'value', gridIndex: i, min: 0, max: yMaxs[i], interval: yIntervals[i], position: 'right',
    axisLine: {show: true, lineStyle: {color: TXT, width: 1}},
    axisTick: {show: true, inside: true, length: 5, lineStyle: {color: TXT}},
    axisLabel: {show: false}, splitLine: {show: false}
  });
  const xi = 2 * i, yi = 2 * i;
  // minor (dotted) grid lines at log minor ticks
  series.push({
    type: 'line', name: 'minor-grid-' + i, xAxisIndex: xi, yAxisIndex: yi, data: [], z: 0, silent: true,
    markLine: {silent: true, symbol: ['none', 'none'], label: {show: false}, animation: false,
      lineStyle: {type: [1, 2], color: '#bdbdbd', width: 1},
      emphasis: {disabled: true},
      data: minorGridValues.map(v => ({xAxis: v}))}
  });
  seriesNames.forEach((nm, k) => {
    const pts = [];
    p.n.forEach((x, j) => { if (p.means[k][j] != null) pts.push([x, p.means[k][j], p.stds[k][j]]); });
    series.push({
      type: 'custom', name: nm + ' error ' + i, xAxisIndex: xi, yAxisIndex: yi, z: 2, silent: true,
      clip: true, encode: {x: 0, y: 1}, data: pts, renderItem: errRender(colors[k])
    });
    series.push({
      type: 'line', name: nm, xAxisIndex: xi, yAxisIndex: yi, z: 2, silent: true,
      data: pts.map(q => [q[0], q[1]]),
      symbol: markerSymbols[k], symbolSize: markerSizes[k], showSymbol: true,
      itemStyle: {color: 'rgba(0,0,0,0)', borderColor: colors[k], borderWidth: 1.3},
      lineStyle: {color: colors[k], width: 1.2}
    });
  });
  series.push({
    type: 'custom', name: 'markers-' + i, xAxisIndex: xi, yAxisIndex: yi, z: 5, silent: true, clip: false,
    encode: {x: 0, y: 1}, data: p.annoX.map((x, j) => [x, p.annoY[j]]), renderItem: annoRender(p)
  });
  legends.push({
    left: p.legendLeft, top: 35.5, orient: 'vertical', padding: 0, itemWidth: 23, itemHeight: 16,
    itemGap: 3.7, selectedMode: false, backgroundColor: 'transparent',
    textStyle: {fontFamily: FONT, fontSize: 19.5, color: '#000', lineHeight: 19},
    data: seriesNames.map((nm, k) => ({name: nm, icon: legendIcons[k],
      itemStyle: {color: colors[k], borderWidth: 0, opacity: 1}}))
  });
  graphics.push({type: 'text', x: p.grid.left + p.grid.width / 2, y: 14, silent: true,
    style: {text: panelTitles[i], fontFamily: FONT, fontSize: 24, fill: '#000', align: 'center', verticalAlign: 'middle'}});
  graphics.push({type: 'text', x: p.tagX, y: 383, silent: true,
    style: {text: panelTags[i], fontFamily: FONT, fontSize: 31, fill: '#000', align: 'center', verticalAlign: 'middle'}});
});

const chart = echarts.init(document.getElementById('c'), null, {renderer: 'canvas'});
chart.setOption({
  animation: false,
  backgroundColor: '#ffffff',
  grid: grids, xAxis: xAxes, yAxis: yAxes, series: series, legend: legends,
  graphic: graphics, tooltip: {show: false}
});
</script>
</body></html>
